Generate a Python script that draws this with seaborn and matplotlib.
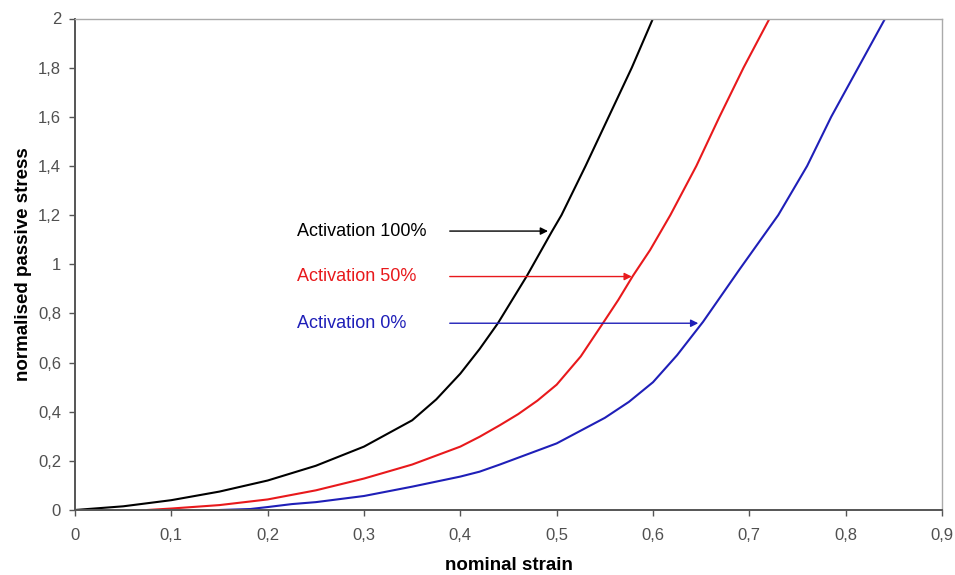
import matplotlib
matplotlib.use("Agg")
import matplotlib.pyplot as plt
import seaborn as sns
import pandas as pd

# ---- data ----
x_act100 = [0, 0.05, 0.1, 0.15, 0.2, 0.25, 0.3, 0.35, 0.375, 0.4, 0.42, 0.439, 0.469,
            0.495, 0.505, 0.53, 0.554, 0.578, 0.600]
y_act100 = [0, 0.015, 0.04, 0.075, 0.12, 0.18, 0.258, 0.365, 0.45, 0.555, 0.655, 0.76, 0.952,
            1.133, 1.2, 1.4, 1.6, 1.8, 2.0]

x_act50 = [0.075, 0.1, 0.15, 0.2, 0.25, 0.3, 0.35, 0.4, 0.42, 0.441, 0.46, 0.48, 0.5,
           0.525, 0.548, 0.564, 0.579, 0.597, 0.618, 0.645, 0.669, 0.694, 0.721]
y_act50 = [0, 0.006, 0.02, 0.043, 0.08, 0.128, 0.185, 0.258, 0.298, 0.345, 0.39, 0.445, 0.51,
           0.625, 0.76, 0.855, 0.952, 1.058, 1.2, 1.4, 1.6, 1.8, 2.0]

x_act0 = [0.15, 0.182, 0.2, 0.225, 0.25, 0.3, 0.35, 0.4, 0.42, 0.441, 0.5, 0.55,
          0.575, 0.6, 0.625, 0.652, 0.69, 0.73, 0.76, 0.785, 0.813, 0.841]
y_act0 = [0, 0.004, 0.012, 0.024, 0.032, 0.057, 0.095, 0.136, 0.156, 0.185, 0.271, 0.375,
          0.44, 0.52, 0.63, 0.766, 0.98, 1.2, 1.4, 1.6, 1.8, 2.0]

series_names = ["Activation 100%", "Activation 50%", "Activation 0%"]
series_colors = ["#000000", "#e8191c", "#1f1fb8"]
label_y = [1.135, 0.95, 0.76]          # arrow heights
arrow_end_x = [0.491, 0.578, 0.647]     # arrow tips
label_x = 0.2305
arrow_start_x = 0.389

x_ticks = [0, 0.1, 0.2, 0.3, 0.4, 0.5, 0.6, 0.7, 0.8, 0.9]
x_tick_labels = ["0", "0,1", "0,2", "0,3", "0,4", "0,5", "0,6", "0,7", "0,8", "0,9"]
y_ticks = [0, 0.2, 0.4, 0.6, 0.8, 1.0, 1.2, 1.4, 1.6, 1.8, 2.0]
y_tick_labels = ["0", "0,2", "0,4", "0,6", "0,8", "1", "1,2", "1,4", "1,6", "1,8", "2"]

frames = []
for name, xs, ys in zip(series_names,
                        [x_act100, x_act50, x_act0],
                        [y_act100, y_act50, y_act0]):
    frames.append(pd.DataFrame({"strain": xs, "stress": ys, "series": name}))
df = pd.concat(frames, ignore_index=True)

sns.set_theme(style="white")
plt.rcParams["font.family"] = ["Liberation Sans", "DejaVu Sans"]

fig = plt.figure(figsize=(9.55, 5.75), dpi=100)
ax = fig.add_axes([75 / 955, 1 - 510 / 575, (942 - 75) / 955, (510 - 18.5) / 575])

sns.lineplot(data=df, x="strain", y="stress", hue="series",
             palette=dict(zip(series_names, series_colors)),
             sort=False, estimator=None, linewidth=1.5, legend=False, ax=ax)
for ln in ax.get_lines():
    ln.set_solid_joinstyle("round")
    ln.set_solid_capstyle("round")

ax.set_xlim(0, 0.9)
ax.set_ylim(0, 2)
ax.set_xticks(x_ticks)
ax.set_xticklabels(x_tick_labels)
ax.set_yticks(y_ticks)
ax.set_yticklabels(y_tick_labels)
ax.tick_params(axis="both", which="major", direction="out", length=4, width=1,
               colors="#555555", labelsize=12, pad=6, bottom=True, left=True)
ax.tick_params(axis="x", pad=9)
for lab in ax.get_xticklabels() + ax.get_yticklabels():
    lab.set_color("#505050")

for side in ["left", "bottom"]:
    ax.spines[side].set_color("#555555")
    ax.spines[side].set_linewidth(1.4)
for side in ["top", "right"]:
    ax.spines[side].set_color("#aaaaaa")
    ax.spines[side].set_linewidth(1.0)
ax.spines["top"].set_visible(True)
ax.spines["right"].set_visible(True)
ax.grid(False)

ax.set_xlabel("nominal strain", fontsize=13.5, fontweight="bold", color="#000000")
ax.set_ylabel("normalised passive stress", fontsize=13.5, fontweight="bold",
              color="#000000")
ax.xaxis.set_label_coords(0.5, -0.095)
ax.yaxis.set_label_coords(-0.05, 0.5)

for name, col, yy, xe in zip(series_names, series_colors, label_y, arrow_end_x):
    ax.text(label_x, yy, name, color=col, fontsize=13, ha="left", va="center")
    ax.annotate("", xy=(xe, yy), xytext=(arrow_start_x, yy),
                arrowprops=dict(arrowstyle="-|>", color=col, lw=1.0,
                                mutation_scale=11, shrinkA=0, shrinkB=0))

fig.savefig("out.png", dpi=100, facecolor="white")
